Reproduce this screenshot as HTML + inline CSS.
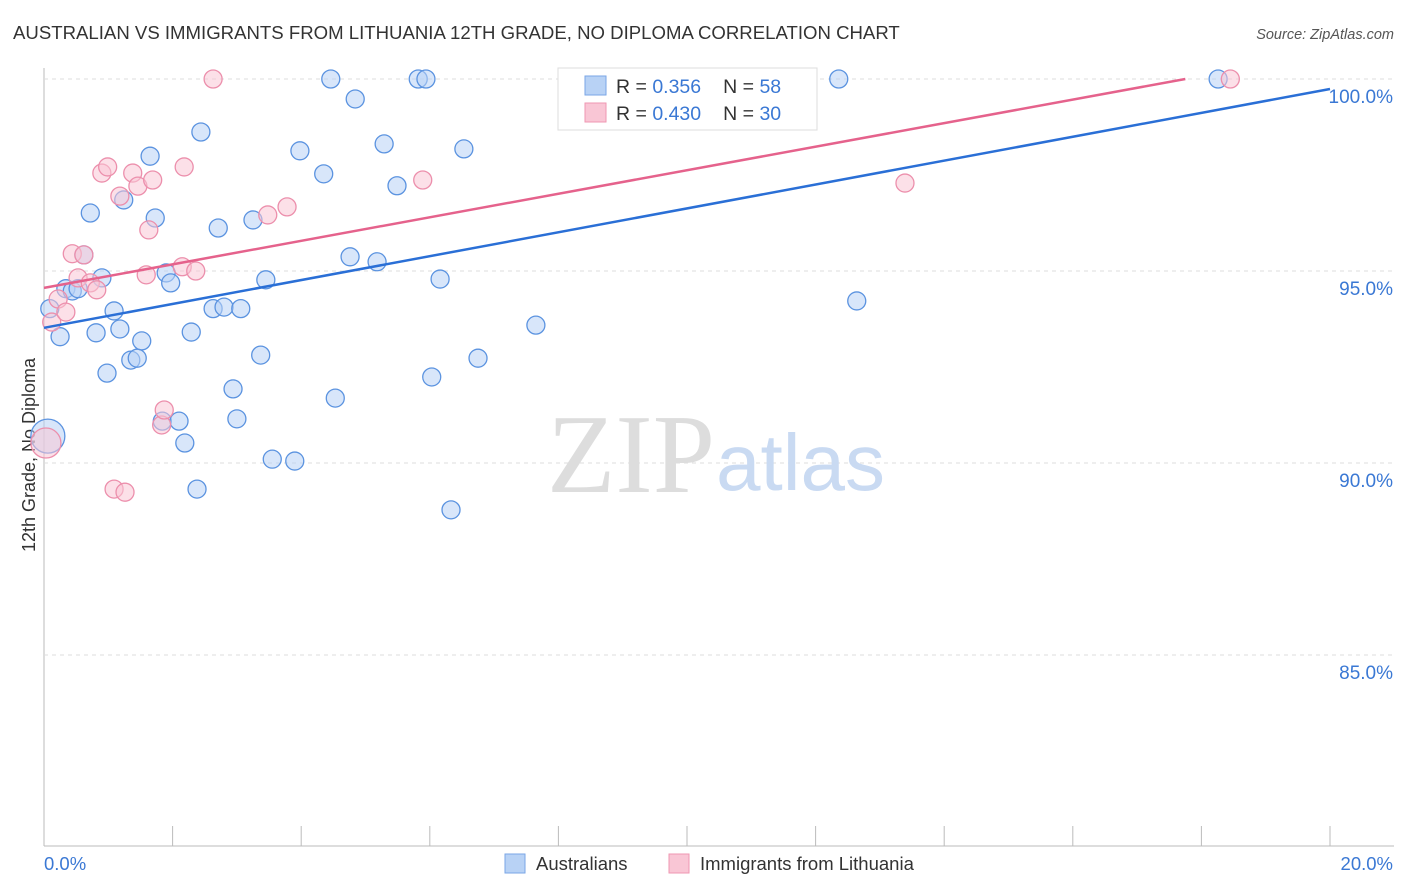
<!DOCTYPE html>
<html><head><meta charset="utf-8"><style>
body{margin:0;background:#fff;font-family:"Liberation Sans",sans-serif}
svg{display:block}
</style></head><body>
<svg id="chart" width="1406" height="892" font-family="Liberation Sans, sans-serif">
<text x="13" y="39" font-size="18.6" fill="#333">AUSTRALIAN VS IMMIGRANTS FROM LITHUANIA 12TH GRADE, NO DIPLOMA CORRELATION CHART</text>
<text x="1394" y="39" font-size="14.5" fill="#555" font-style="italic" text-anchor="end">Source: ZipAtlas.com</text>
<text x="35" y="455" font-size="18" fill="#333" transform="rotate(-90 35 455)" text-anchor="middle">12th Grade, No Diploma</text>
<g id="grid"></g>
<text x="715" y="492" font-size="112" fill="#ddd" font-family="Liberation Serif, serif" text-anchor="end">ZIP</text>
<text x="716" y="490" font-size="80" fill="#c9daf2">atlas</text>
<g id="marks"></g>
<g>
<rect x="558" y="68" width="259" height="62" fill="#fff" stroke="#ddd"/>
<rect x="585" y="76" width="21" height="19" fill="#b8d2f5" stroke="#7aa6e6"/>
<rect x="585" y="103" width="21" height="19" fill="#f9c6d5" stroke="#ef97b2"/>
<text x="616" y="93" font-size="19.5" fill="#333">R = <tspan fill="#3a78d4"> 0.356</tspan><tspan dx="22" fill="#333">N = </tspan><tspan fill="#3a78d4"> 58</tspan></text>
<text x="616" y="120" font-size="19.5" fill="#333">R = <tspan fill="#3a78d4">0.430</tspan><tspan dx="22" fill="#333">N = </tspan><tspan fill="#3a78d4">30</tspan></text>
</g>
<g>
<rect x="505" y="854" width="20" height="19" fill="#b8d2f5" stroke="#7aa6e6"/>
<text x="536" y="870" font-size="18.5" fill="#333">Australians</text>
<rect x="669" y="854" width="20" height="19" fill="#f9c6d5" stroke="#ef97b2"/>
<text x="700" y="870" font-size="18.5" fill="#333">Immigrants from Lithuania</text>
</g>
<text x="44" y="870" font-size="18.5" fill="#3a78d4">0.0%</text>
<text x="1393" y="870" font-size="18.5" fill="#3a78d4" text-anchor="end">20.0%</text>
</svg>
<script>
const yTicks=[100,95,90,85];
const xTickVals=[0,2,4,6,8,10,12,14,16,18,20];
const blueX=[0.09,0.25,0.34,0.44,0.53,0.62,0.72,0.81,0.90,0.98,1.09,1.18,1.24,1.35,1.45,1.52,1.65,1.73,1.84,1.90,1.97,2.10,2.19,2.29,2.38,2.44,2.63,2.71,2.80,2.94,3.00,3.06,3.25,3.37,3.45,3.55,3.90,3.98,4.35,4.46,4.53,4.76,4.84,5.18,5.29,5.49,5.82,5.94,6.03,6.16,6.33,6.53,6.75,7.65,12.36,12.64,18.26,0.06];
const blueY=[94.02,93.29,94.54,94.48,94.54,95.42,96.51,93.39,94.82,92.34,93.96,93.49,96.85,92.68,92.73,93.18,97.99,96.38,91.09,94.95,94.69,91.09,90.52,93.41,89.32,98.62,94.02,96.12,94.06,91.93,91.15,94.02,96.33,92.81,94.77,90.1,90.05,98.13,97.53,100,91.69,95.37,99.48,95.24,98.31,97.22,100,100,92.24,94.79,88.78,98.18,92.73,93.59,100,94.22,100,90.7];
const blueR=[9,9,9,9,9,9,9,9,9,9,9,9,9,9,9,9,9,9,9,9,9,9,9,9,9,9,9,9,9,9,9,9,9,9,9,9,9,9,9,9,9,9,9,9,9,9,9,9,9,9,9,9,9,9,9,9,9,17];
const pinkX=[0.12,0.22,0.34,0.44,0.53,0.62,0.72,0.82,0.90,0.99,1.09,1.18,1.26,1.38,1.46,1.59,1.63,1.69,1.83,1.87,2.15,2.18,2.36,2.63,3.48,3.78,5.89,13.39,18.45,0.03];
const pinkY=[93.67,94.27,93.93,95.45,94.82,95.42,94.69,94.51,97.55,97.71,89.32,96.95,89.24,97.55,97.21,94.9,96.07,97.37,90.99,91.38,95.11,97.71,95.0,100,96.46,96.67,97.37,97.29,100,90.52];
const pinkR=[9,9,9,9,9,9,9,9,9,9,9,9,9,9,9,9,9,9,9,9,9,9,9,9,9,9,9,9,9,15];
const blueFit=[93.52,99.74];
const pinkFit=[94.56,100];
const NS='http://www.w3.org/2000/svg';
const X=v=>44+v*64.3, Y=v=>79+(100-v)*38.4;
function el(t,a,p){const e=document.createElementNS(NS,t);for(const k in a)e.setAttribute(k,a[k]);p.appendChild(e);return e;}
const grid=document.getElementById('grid'),marks=document.getElementById('marks');
let ax=el('line',{x1:44,y1:68,x2:44,y2:846,stroke:'#bbb'},grid);


let bx=el('line',{x1:44,y1:846,x2:1394,y2:846,stroke:'#bbb'},grid);


yTicks.forEach(t=>{
 const g=el('line',{x1:44,x2:1394,y1:Y(t),y2:Y(t),stroke:'#ddd','stroke-dasharray':'4,4'},grid);
 
 
 const tx=el('text',{x:1393,y:Y(t)+24,'font-size':19,fill:'#3a78d4','text-anchor':'end'},grid);
 tx.textContent=t.toFixed(1)+'%';
 
 
});
xTickVals.forEach(t=>{
 const l=el('line',{x1:X(t),x2:X(t),y1:826,y2:846,stroke:'#bbb'},grid);
 
 
});
function dots(xs,ys,rs,fill,stroke,name){
 xs.forEach((x,i)=>{
  const c=el('circle',{cx:X(x),cy:Y(ys[i]),r:rs[i],fill:fill,'fill-opacity':0.55,stroke:stroke,'stroke-width':1.3},marks);
  
  
 });
}
dots(blueX,blueY,blueR,'#b8d2f5','#5b93e0','australians-point');
dots(pinkX,pinkY,pinkR,'#f9c6d5','#ec8fac','lithuania-point');
const bl=el('line',{x1:X(0),y1:Y(blueFit[0]),x2:X(20),y2:Y(blueFit[1]),stroke:'#2a6fd6','stroke-width':2.5},marks);


const pl=el('line',{x1:X(0),y1:Y(pinkFit[0]),x2:X(17.75),y2:Y(pinkFit[1]),stroke:'#e5628c','stroke-width':2.5},marks);


</script>
</body></html>
